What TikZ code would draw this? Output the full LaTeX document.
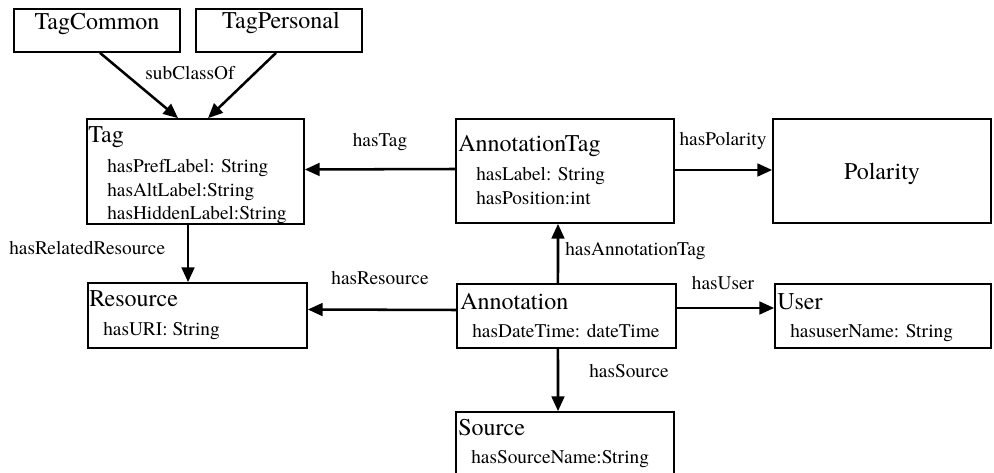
\documentclass[tikz,border=0pt]{standalone}
\usepackage{fontspec}
\setmainfont{TeX Gyre Termes}
\usetikzlibrary{arrows.meta}

\begin{document}
\begin{tikzpicture}[
        x=0.75pt, y=-0.75pt,  % pixel units, y runs downwards
        cls/.style 2 args={draw, line width=1.3pt, inner sep=0pt, minimum width=#1*0.75pt, minimum height=#2*0.75pt},
        big/.style={font=\fontsize{18}{20}\selectfont},
        ttl/.style={big, anchor=base west, inner sep=0pt},
        attr/.style={anchor=base west, inner sep=0pt, font=\fontsize{14.5}{16}\selectfont},
        lbl/.style={anchor=base, inner sep=0pt, font=\fontsize{14.5}{16}\selectfont},
        rel/.style={draw, line width=1.9pt, -{Triangle[length=11pt, width=9.5pt]}}
    ]
    \useasboundingbox (0,0) rectangle (994,473);

    % classes
    \node[cls={166}{43}] (common) at (97,30.5) {};
    \node[cls={166}{43}] (personal) at (279,30.5) {};
    \node[cls={217}{105}] (tag) at (195.5,171.5) {};
    \node[cls={218}{104}] (antag) at (565,171) {};
    \node[cls={218}{104}] (polarity) at (882,171) {};
    \node[cls={219}{65}] (resource) at (197.5,315.5) {};
    \node[cls={219}{64}] (annotation) at (566.5,316) {};
    \node[cls={216}{64}] (user) at (883,316) {};
    \node[cls={218}{64}] (source) at (565,444) {};

    % class names and attributes
    \node[lbl, big] (commonT) at (97,30) {TagCommon};
    \node[lbl, big] (personalT) at (281,29) {TagPersonal};
    \node[ttl] (tagT) at (88,143) {Tag};
    \node[attr] (tagA) at (107,173) {hasPrefLabel: String};
    \node[attr] (tagB) at (107,196.5) {hasAltLabel:String};
    \node[attr] (tagC) at (107,220) {hasHiddenLabel:String};
    \node[ttl] (antagT) at (458,152) {AnnotationTag};
    \node[attr] (antagA) at (476,181) {hasLabel: String};
    \node[attr] (antagB) at (476,205) {hasPosition:int};
    \node[lbl, big] (polarityT) at (882,180) {Polarity};
    \node[ttl] (resourceT) at (89,307) {Resource};
    \node[attr] (resourceA) at (103,335) {hasURI: String};
    \node[ttl] (annotationT) at (460,310) {Annotation};
    \node[attr] (annotationA) at (472,338) {hasDateTime: dateTime};
    \node[ttl] (userT) at (777,310) {User};
    \node[attr] (userA) at (790,338) {hasuserName: String};
    \node[ttl] (sourceT) at (458,435) {Source};
    \node[attr] (sourceA) at (471,463) {hasSourceName:String};

    % relations
    \draw[rel] ([xshift=2.25pt]common.south) -- ([xshift=-13.1pt]tag.north);
    \draw[rel] ([xshift=-2.25pt]personal.south) -- ([xshift=9.4pt]tag.north);
    \draw[rel] ([yshift=1.5pt]antag.west) -- ([yshift=1.5pt]tag.east);
    \draw[rel] ([yshift=.75pt]antag.east) -- ([yshift=.75pt]polarity.west);
    \draw[rel] ([xshift=-6.4pt]annotation.north) -- ([xshift=-5.25pt]antag.south);
    \draw[rel] ([yshift=6pt]annotation.east) -- ([yshift=6pt]user.west);
    \draw[rel] ([yshift=4.5pt]annotation.west) -- ([yshift=4.5pt]resource.east);
    \draw[rel] ([xshift=-5.6pt]tag.south) -- ([xshift=-7.1pt]resource.north);
    \draw[rel] ([xshift=-6.4pt]annotation.south) -- ([xshift=-5.25pt]source.north);

    % relation names
    \node[lbl] (subL) at (190,80) {subClassOf};
    \node[lbl] (tagL) at (380,147) {hasTag};
    \node[lbl] (polarityL) at (723,146) {hasPolarity};
    \node[attr] (antagL) at (565,256) {hasAnnotationTag};
    \node[lbl] (userL) at (723,290) {hasUser};
    \node[lbl] (resourceL) at (380,285) {hasResource};
    \node[attr] (relatedL) at (9,255) {hasRelatedResource};
    \node[attr] (sourceL) at (589,378) {hasSource};
\end{tikzpicture}
\end{document}
